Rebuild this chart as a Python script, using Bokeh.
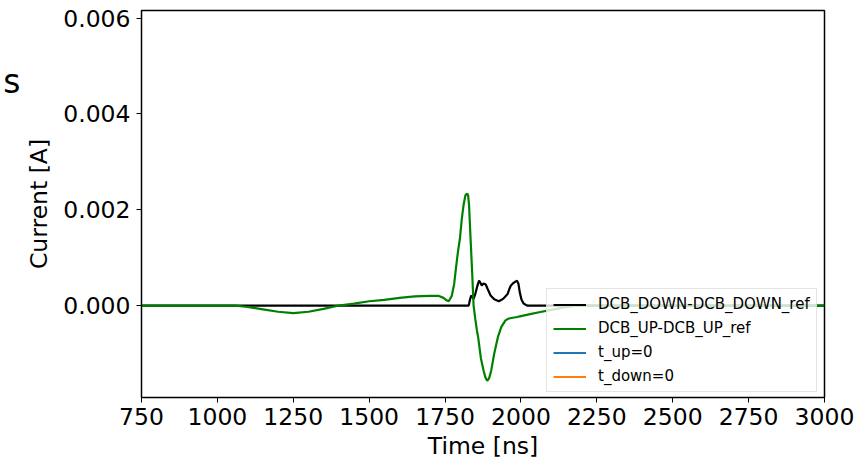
from bokeh.plotting import figure
from bokeh.models import (Legend, LegendItem, FixedTicker, NumeralTickFormatter, Range1d,
                          LinearAxis)
from bokeh.embed import file_html
from bokeh.resources import INLINE

# Differential current traces (time in ns, current in A)
up_t = [750, 1000, 1060, 1100, 1150, 1200, 1250, 1300, 1350, 1400, 1450, 1500, 1550,
        1600, 1650, 1700, 1730, 1745, 1755, 1762, 1772, 1780, 1785, 1792, 1799, 1805,
        1811, 1817, 1823, 1826, 1829, 1834, 1839, 1844, 1850, 1855, 1859, 1868, 1877,
        1883, 1889, 1895, 1902, 1912, 1924, 1935, 1949, 1960, 1987, 2000, 2030, 2060,
        2100, 2140, 2180, 2220, 3000]
up_i = [0.0, 0.0, 0.0, -0.00003, -0.00008, -0.00013, -0.00016, -0.00013, -0.00007, 0.0,
        0.00004, 0.00009, 0.00012, 0.00016, 0.00019, 0.0002, 0.0002, 0.00016, 0.00011,
        0.00009, 0.0002, 0.00045, 0.00073, 0.0011, 0.0014, 0.0018, 0.0021, 0.0023,
        0.00234, 0.0023, 0.0021, 0.0014, 0.00073, 0.0, -0.0003, -0.00052, -0.00066,
        -0.0011, -0.00136, -0.0015, -0.00157, -0.00152, -0.00136, -0.001, -0.00066,
        -0.00045, -0.00031, -0.00027, -0.00024, -0.00022, -0.00018, -0.00014, -0.00009,
        -0.00004, -0.00001, 0.0, 0.0]

down_t = [750, 1828, 1832, 1836, 1840, 1844, 1850, 1856, 1862, 1866, 1871, 1877, 1884,
          1890, 1900, 1912, 1927, 1936, 1943, 1950, 1956, 1962, 1967, 1975, 1982, 1987,
          1992, 1996, 2002, 2009, 2020, 3000]
down_i = [0.0, 0.0, 0.00012, 0.00021, 0.00018, 0.00014, 0.00025, 0.0004, 0.00052,
          0.00048, 0.00042, 0.00046, 0.00044, 0.00035, 0.00021, 0.00013, 0.00009, 0.00012,
          0.00015, 0.0002, 0.00024, 0.00035, 0.00042, 0.00047, 0.0005, 0.00052, 0.00045,
          0.00028, 0.00012, 0.00004, 0.0, 0.0]

# Trigger markers (vertical lines at t = 0)
t_up = 0
t_down = 0

x_ticks = [750, 1000, 1250, 1500, 1750, 2000, 2250, 2500, 2750, 3000]
y_ticks = [0.0, 0.002, 0.004, 0.006]

# Stray "s" on the far left, carried by an outer axis with a single labelled tick
side_tick = 0.00467
side_text = "s"

FONT = "DejaVu Sans"

p = figure(width=864, height=462, output_backend="svg", toolbar_location=None,
           x_range=Range1d(750, 3000), y_range=Range1d(-0.00192, 0.00616),
           min_border_left=140, min_border_right=40, min_border_top=10,
           min_border_bottom=65)

p.xgrid.visible = False
p.ygrid.visible = False
p.outline_line_color = "black"
p.outline_line_width = 1.5
p.background_fill_color = "white"
p.border_fill_color = "white"

r_down = p.line(down_t, down_i, line_color="black", line_width=2.2)
r_up = p.line(up_t, up_i, line_color="green", line_width=2.2)
r_tu = p.line([t_up, t_up], [-0.00192, 0.00616], line_color="#1f77b4", line_width=2.2)
r_td = p.line([t_down, t_down], [-0.00192, 0.00616], line_color="#ff7f0e", line_width=2.2)

for ax in (p.xaxis[0], p.yaxis[0]):
    ax.major_label_text_font = FONT
    ax.major_label_text_font_size = "23.5px"
    ax.major_label_text_color = "black"
    ax.axis_label_text_font = FONT
    ax.axis_label_text_font_size = "23.5px"
    ax.axis_label_text_font_style = "normal"
    ax.axis_label_text_color = "black"
    ax.major_tick_in = 0
    ax.major_tick_out = 5
    ax.minor_tick_in = 0
    ax.minor_tick_out = 0
    ax.axis_line_color = "black"
    ax.major_tick_line_color = "black"

p.xaxis.ticker = FixedTicker(ticks=x_ticks)
p.yaxis.ticker = FixedTicker(ticks=y_ticks)
p.yaxis.formatter = NumeralTickFormatter(format="0.000")
p.xaxis.axis_label = "Time [ns]"
p.yaxis.axis_label = "Current [A]"
p.xaxis.major_label_standoff = 5
p.yaxis.major_label_standoff = 6
p.xaxis.axis_label_standoff = 4
p.yaxis.axis_label_standoff = 7

side_axis = LinearAxis(ticker=FixedTicker(ticks=[side_tick]),
                       major_label_overrides={side_tick: side_text},
                       axis_line_color=None, major_tick_line_color=None,
                       minor_tick_line_color=None, major_label_standoff=2,
                       major_tick_in=0, major_tick_out=0,
                       major_label_text_font=FONT, major_label_text_font_size="33px",
                       major_label_text_color="black")
p.add_layout(side_axis, "left")

legend = Legend(items=[
    LegendItem(label="DCB_DOWN-DCB_DOWN_ref", renderers=[r_down]),
    LegendItem(label="DCB_UP-DCB_UP_ref", renderers=[r_up]),
    LegendItem(label="t_up=0", renderers=[r_tu]),
    LegendItem(label="t_down=0", renderers=[r_td]),
], location=(405, 5))
legend.label_text_font = FONT
legend.label_text_font_size = "15px"
legend.label_text_color = "black"
legend.label_height = 17
legend.glyph_height = 17
legend.glyph_width = 33
legend.label_standoff = 12
legend.spacing = 6
legend.padding = 6
legend.margin = 0
legend.background_fill_alpha = 0.8
legend.border_line_color = "#cccccc"
legend.border_line_width = 1
p.add_layout(legend, "center")

open("out.html", "w").write(file_html(p, INLINE))
